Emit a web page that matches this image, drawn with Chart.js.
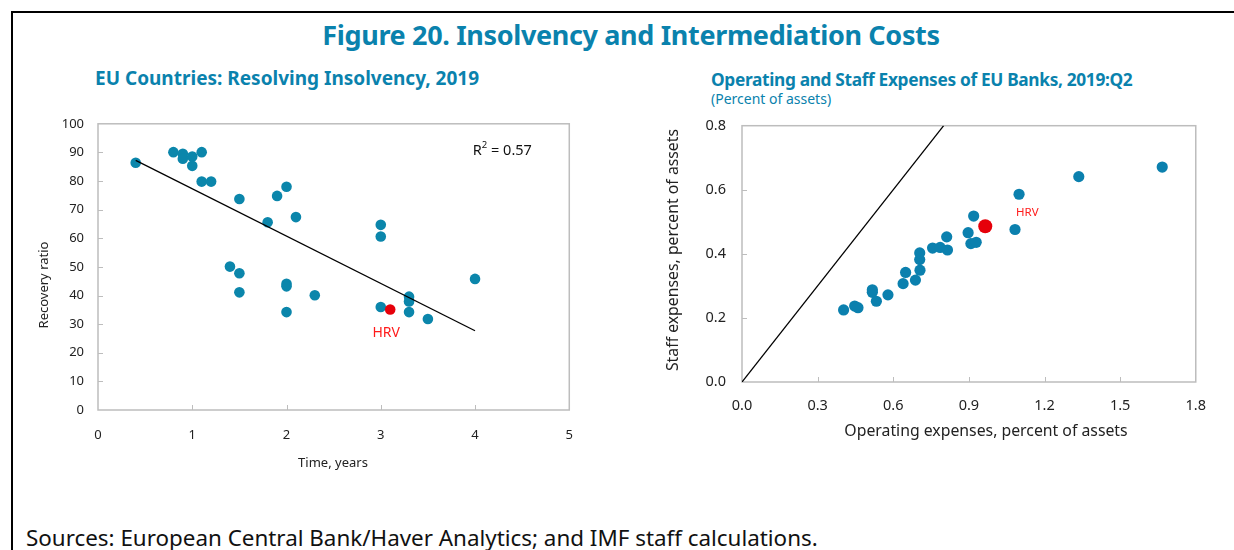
<!DOCTYPE html>
<html>
<head>
<meta charset="utf-8">
<script src="https://cdn.jsdelivr.net/npm/chart.js@4.4.1/dist/chart.umd.min.js"></script>
<style>
  body { margin: 0; width: 1234px; height: 550px; overflow: hidden; background: #fff; position: relative; font-family: "Noto Sans", sans-serif; }
  .frame { position: absolute; left: 11px; top: 11px; width: 1300px; height: 600px; border-top: 2.5px solid #000; border-left: 2.5px solid #000; }
  .txt { position: absolute; white-space: nowrap; line-height: 1; color: #0a82ad; }
  #mainTitle { left: 0; width: 1262px; top: 21px; text-align: center; font-size: 27px; font-weight: 700; letter-spacing: -0.35px; }
  #subLeft { left: 95px; top: 69px; font-size: 19px; font-weight: 700; }
  #subRight { left: 711px; top: 71px; font-size: 17.3px; font-weight: 700; letter-spacing: -0.33px; }
  #unitRight { left: 711px; top: 92px; font-size: 14px; }
  #sources { left: 26px; top: 527px; font-size: 22.4px; color: #111; }
  canvas { position: absolute; }
  #leftChart { left: 20px; top: 102px; }
  #rightChart { left: 650px; top: 101px; }
</style>
</head>
<body>
<div class="frame"></div>
<div class="txt" id="mainTitle">Figure 20. Insolvency and Intermediation Costs</div>
<div class="txt" id="subLeft">EU Countries: Resolving Insolvency, 2019</div>
<div class="txt" id="subRight">Operating and Staff Expenses of EU Banks, 2019:Q2</div>
<div class="txt" id="unitRight">(Percent of assets)</div>
<div class="txt" id="sources">Sources: European Central Bank/Haver Analytics; and IMF staff calculations.</div>
<canvas id="leftChart" width="570" height="378"></canvas>
<canvas id="rightChart" width="571" height="349"></canvas>
<script>
// left panel: time to resolve insolvency vs recovery ratio
const timeYears = [0.4, 0.8, 0.9, 0.9, 1.0, 1.0, 1.1, 1.1, 1.2, 1.5, 1.9, 2.0, 1.8, 2.1, 3.0,
  3.0, 1.4, 1.5, 1.5, 2.0, 2.0, 2.3, 2.0, 3.0, 3.3, 3.3, 3.3, 3.5, 4.0];
const recoveryRatio = [86.4, 90.1, 89.5, 87.8, 88.6, 85.3, 90.1, 79.8, 79.8, 73.7, 74.8, 78.0, 65.6, 67.4, 64.7,
  60.6, 50.1, 47.8, 41.1, 44.1, 43.2, 40.1, 34.2, 36.0, 39.6, 37.9, 34.2, 31.8, 45.8];
const hrvTime = [3.1];
const hrvRecovery = [35.1];
const trendTime = [0.4, 4.0];
const trendRecovery = [87.2, 27.7];
const leftYTicks = [0, 10, 20, 30, 40, 50, 60, 70, 80, 90, 100];
const leftXTicks = [0, 1, 2, 3, 4, 5];

// right panel: operating vs staff expenses of banks
const operatingExp = [0.403, 0.447, 0.460, 0.517, 0.517, 0.533, 0.579, 0.639, 0.649, 0.688, 0.706, 0.705, 0.705,
  0.756, 0.786, 0.815, 0.812, 0.897, 0.908, 0.929, 0.919, 1.083, 1.099, 1.336, 1.667];
const staffExp = [0.225, 0.237, 0.232, 0.288, 0.280, 0.252, 0.272, 0.307, 0.342, 0.318, 0.349, 0.382, 0.403,
  0.418, 0.420, 0.412, 0.453, 0.466, 0.432, 0.436, 0.518, 0.476, 0.586, 0.641, 0.671];
const hrvOperating = [0.965];
const hrvStaff = [0.486];
const diagOperating = [0, 0.8];
const diagStaff = [0, 0.8];
const rightYTicks = [0, 0.2, 0.4, 0.6, 0.8];
const rightXTicks = [0, 0.3, 0.6, 0.9, 1.2, 1.5, 1.8];

const BLUE = "#0b86ab";
const RED = "#e6000a";
const FONT = "'Noto Sans', sans-serif";

const toPoints = (xs, ys) => xs.map((x, i) => ({ x: x, y: ys[i] }));

// box round the plot area, short ticks pointing inward, titles and labels
const panelDecor = {
  id: "panelDecor",
  beforeDatasetsDraw(chart) {
    const { ctx, chartArea: a, scales } = chart;
    ctx.save();
    ctx.strokeStyle = "#bdbdbd";
    ctx.lineWidth = 1.5;
    ctx.strokeRect(a.left, a.top, a.width, a.height);
    ctx.lineWidth = 1;
    scales.y.ticks.forEach((t) => {
      if (t.value <= scales.y.min || t.value >= scales.y.max) return;
      const py = Math.round(scales.y.getPixelForValue(t.value)) + 0.5;
      ctx.beginPath(); ctx.moveTo(a.left, py); ctx.lineTo(a.left + 5, py); ctx.stroke();
    });
    scales.x.ticks.forEach((t) => {
      if (t.value <= scales.x.min || t.value >= scales.x.max) return;
      const px = Math.round(scales.x.getPixelForValue(t.value)) + 0.5;
      ctx.beginPath(); ctx.moveTo(px, a.bottom); ctx.lineTo(px, a.bottom - 5); ctx.stroke();
    });
    ctx.restore();
  },
  afterDatasetsDraw(chart, args, opts) {
    const { ctx, scales } = chart;
    ctx.save();
    ctx.textAlign = "center";
    ctx.textBaseline = "middle";
    (opts.titles || []).forEach((t) => {
      ctx.save();
      ctx.font = t.font;
      ctx.fillStyle = "#222";
      ctx.translate(t.x, t.y);
      ctx.rotate(t.rot || 0);
      ctx.fillText(t.text, 0, 0);
      ctx.restore();
    });
    (opts.labels || []).forEach((l) => {
      const px = scales.x.getPixelForValue(l.x) + (l.dx || 0);
      const py = scales.y.getPixelForValue(l.y) + (l.dy || 0);
      ctx.font = l.font;
      ctx.fillStyle = l.color;
      if (l.sup) {
        // R² with a raised 2
        const w1 = ctx.measureText("R").width;
        const rest = " = " + l.text;
        const w3 = ctx.measureText(rest).width;
        ctx.font = l.supFont;
        const w2 = ctx.measureText("2").width;
        const sx = px - (w1 + w2 + w3) / 2;
        ctx.textAlign = "left";
        ctx.font = l.font;
        ctx.fillText("R", sx, py);
        ctx.font = l.supFont;
        ctx.fillText("2", sx + w1, py - 5);
        ctx.font = l.font;
        ctx.fillText(rest, sx + w1 + w2, py);
        ctx.textAlign = "center";
      } else {
        ctx.fillText(l.text, px, py);
      }
    });
    ctx.restore();
  }
};

function tickFont(size) {
  return { family: FONT, size: size };
}

new Chart(document.getElementById("leftChart"), {
  type: "scatter",
  data: {
    datasets: [
      {
        data: toPoints(trendTime, trendRecovery),
        showLine: true, borderColor: "#000", borderWidth: 1.3, pointRadius: 0
      },
      {
        data: toPoints(hrvTime, hrvRecovery),
        backgroundColor: RED, borderWidth: 0, pointRadius: 5.3
      },
      {
        data: toPoints(timeYears, recoveryRatio),
        backgroundColor: BLUE, borderWidth: 0, pointRadius: 5.3
      }
    ]
  },
  options: {
    responsive: false,
    animation: false,
    events: [],
    layout: { padding: 0 },
    plugins: {
      legend: { display: false },
      tooltip: { enabled: false },
      panelDecor: {
        titles: [
          { text: "Recovery ratio", x: 24, y: 183, rot: -Math.PI / 2, font: "13px " + FONT },
          { text: "Time, years", x: 313, y: 361, font: "13px " + FONT }
        ],
        labels: [
          { text: "HRV", x: hrvTime[0], y: hrvRecovery[0], dx: -4, dy: 23, font: "14px " + FONT, color: "#ff1a1a" },
          { text: "0.57", sup: true, x: 4.29, y: 90.7, font: "14.5px " + FONT, supFont: "9.5px " + FONT, color: "#111" }
        ]
      }
    },
    scales: {
      x: {
        type: "linear", min: 0, max: 5,
        afterBuildTicks: (s) => { s.ticks = leftXTicks.map((v) => ({ value: v })); },
        ticks: { font: tickFont(13), color: "#222", padding: 17 },
        grid: { display: false, drawTicks: false },
        border: { display: false },
        afterFit: (s) => { s.height = 70; }
      },
      y: {
        type: "linear", min: 0, max: 100,
        afterBuildTicks: (s) => { s.ticks = leftYTicks.map((v) => ({ value: v })); },
        ticks: { font: tickFont(13), color: "#222", padding: 14 },
        grid: { display: false, drawTicks: false },
        border: { display: false },
        afterFit: (s) => { s.width = 78; }
      }
    }
  },
  plugins: [panelDecor]
});

new Chart(document.getElementById("rightChart"), {
  type: "scatter",
  data: {
    datasets: [
      {
        data: toPoints(diagOperating, diagStaff),
        showLine: true, borderColor: "#000", borderWidth: 1.3, pointRadius: 0
      },
      {
        data: toPoints(hrvOperating, hrvStaff),
        backgroundColor: RED, borderWidth: 0, pointRadius: 7
      },
      {
        data: toPoints(operatingExp, staffExp),
        backgroundColor: "#0b80ae", borderWidth: 0, pointRadius: 5.6
      }
    ]
  },
  options: {
    responsive: false,
    animation: false,
    events: [],
    layout: { padding: 0 },
    plugins: {
      legend: { display: false },
      tooltip: { enabled: false },
      panelDecor: {
        titles: [
          { text: "Staff expenses, percent of assets", x: 23, y: 149, rot: -Math.PI / 2, font: "15.8px " + FONT },
          { text: "Operating expenses, percent of assets", x: 336, y: 330, font: "15.8px " + FONT }
        ],
        labels: [
          { text: "HRV", x: hrvOperating[0], y: hrvStaff[0], dx: 42, dy: -14, font: "11.5px " + FONT, color: "#ff1a1a" }
        ]
      }
    },
    scales: {
      x: {
        type: "linear", min: 0, max: 1.8,
        afterBuildTicks: (s) => { s.ticks = rightXTicks.map((v) => ({ value: v })); },
        ticks: { font: tickFont(14.5), color: "#222", padding: 15, callback: (v) => v.toFixed(1) },
        grid: { display: false, drawTicks: false },
        border: { display: false },
        afterFit: (s) => { s.height = 68; }
      },
      y: {
        type: "linear", min: 0, max: 0.8,
        afterBuildTicks: (s) => { s.ticks = rightYTicks.map((v) => ({ value: v })); },
        ticks: { font: tickFont(14.5), color: "#222", padding: 16, callback: (v) => v.toFixed(1) },
        grid: { display: false, drawTicks: false },
        border: { display: false },
        afterFit: (s) => { s.width = 92; }
      }
    }
  },
  plugins: [panelDecor]
});
</script>
</body>
</html>
